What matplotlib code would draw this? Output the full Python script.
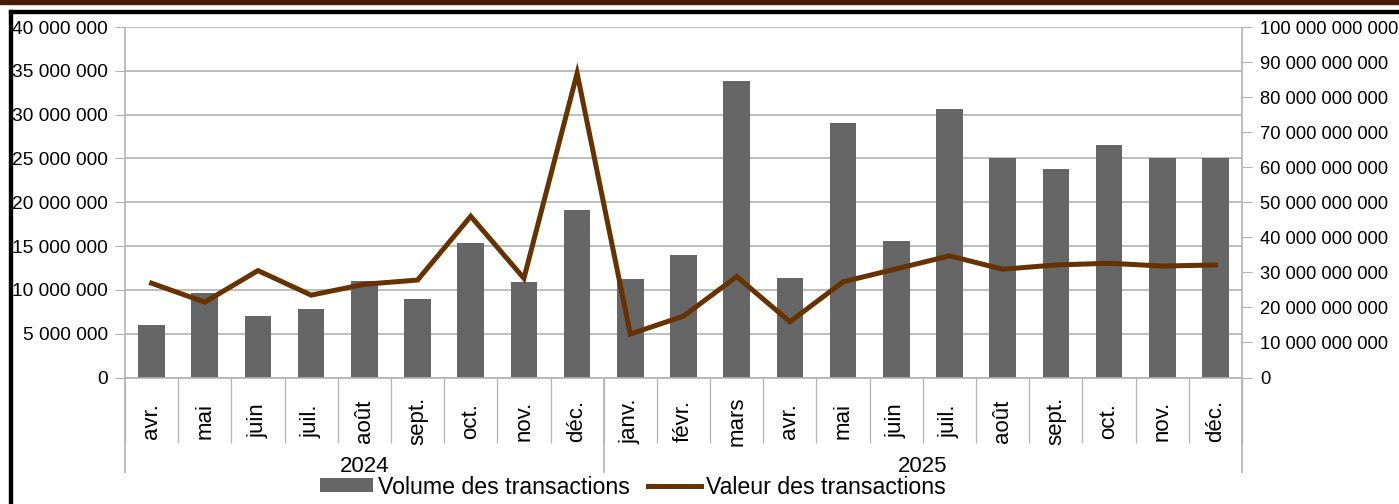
import matplotlib
matplotlib.use("Agg")
import matplotlib.pyplot as plt
from matplotlib.ticker import FuncFormatter, MultipleLocator
from matplotlib.patches import Rectangle

plt.rcParams['font.family'] = ['Liberation Sans', 'DejaVu Sans']

# monthly data, april 2024 -> december 2025
months = ['avr.', 'mai', 'juin', 'juil.', 'août', 'sept.', 'oct.', 'nov.', 'déc.',
          'janv.', 'févr.', 'mars', 'avr.', 'mai', 'juin', 'juil.', 'août', 'sept.',
          'oct.', 'nov.', 'déc.']
years = ['2024', '2025']
year_counts = [9, 12]

# volume des transactions (millions)
volume_m = [6.0, 9.7, 7.0, 7.8, 11.0, 9.0, 15.3, 10.9, 19.1,
            11.2, 14.0, 33.8, 11.3, 29.0, 15.6, 30.6, 25.0, 23.8, 26.5, 25.1, 25.1]
# valeur des transactions (milliards)
valeur_b = [26.9, 21.5, 30.5, 23.5, 26.6, 27.8, 46.0, 28.3, 86.8,
            12.4, 17.5, 28.8, 15.9, 27.3, 31.0, 34.7, 30.9, 32.1, 32.6, 31.8, 32.1]

volume = [v * 1e6 for v in volume_m]
valeur = [v * 1e9 for v in valeur_b]

W, H = 1399, 504
fig = plt.figure(figsize=(W / 100, H / 100), dpi=100)

# frame bits of the original screenshot
fig.patches.append(Rectangle((0, 1 - 4 / H), 1, 4 / H, transform=fig.transFigure,
                             color='#4a1a05', zorder=0))
fig.patches.append(Rectangle((9 / W, 1 - 13 / H), 1, 3 / H, transform=fig.transFigure,
                             color='black', zorder=0))
fig.patches.append(Rectangle((9 / W, 0), 3 / W, 1 - 10 / H, transform=fig.transFigure,
                             color='black', zorder=0))

left, right, top, bottom = 125, 1242, 27, 377.5
ax = fig.add_axes([left / W, 1 - bottom / H, (right - left) / W, (bottom - top) / H])
ax2 = ax.twinx()

grey = '#b3b3b3'
fs_cat = 16
fs_leg = 16.7

x = list(range(len(months)))
ax.bar(x, volume, width=0.5, color='#666666', zorder=2, label='Volume des transactions')
ax2.plot(x, valeur, color='#663300', linewidth=3.6, solid_joinstyle='miter',
         label='Valeur des transactions')

ax.set_xlim(-0.5, len(months) - 0.5)
ax.set_ylim(0, 40e6)
ax2.set_ylim(0, 100e9)
ax.yaxis.set_major_locator(MultipleLocator(5e6))
ax2.yaxis.set_major_locator(MultipleLocator(10e9))

fmt = FuncFormatter(lambda v, p: f"{int(round(v)):,}".replace(',', ' '))
ax.yaxis.set_major_formatter(fmt)
ax2.yaxis.set_major_formatter(fmt)

ax.set_axisbelow(True)
ax.yaxis.grid(True, color=grey, linewidth=1.2)

for a in (ax, ax2):
    for s in a.spines.values():
        s.set_visible(False)
    a.tick_params(axis='y', colors=grey, labelcolor='black',
                  length=7.2, width=0.8)
ax.tick_params(axis='y', pad=5, labelsize=13.8)
ax2.tick_params(axis='y', pad=6, labelsize=13.2)
ax.spines['bottom'].set_visible(True)
ax.spines['bottom'].set_color(grey)
ax.spines['bottom'].set_linewidth(1.2)

ax.set_xticks([])
ax2.set_xticks([])

# category separators and labels below the axis
trans = ax.get_xaxis_transform()
h_axes = bottom - top
month_depth = (443 - bottom) / h_axes
group_depth = (473 - bottom) / h_axes
ax.vlines([i - 0.5 for i in range(len(months) + 1)], -month_depth, 0,
          transform=trans, colors=grey, linewidth=0.9, clip_on=False)
bounds = [-0.5]
for c in year_counts:
    bounds.append(bounds[-1] + c)
# outer edges act as the two value axes
ax.vlines([bounds[0], bounds[-1]], -group_depth, 1, transform=trans, colors=grey,
          linewidth=1.2, clip_on=False)
ax.vlines(bounds[1:-1], -group_depth, 0, transform=trans, colors=grey,
          linewidth=1.2, clip_on=False)

for i, m in enumerate(months):
    ax.text(i, -(421 - bottom) / h_axes, m, transform=trans, rotation=90,
            ha='center', va='center', fontsize=fs_cat)
for j, yr in enumerate(years):
    ax.text((bounds[j] + bounds[j + 1]) / 2, -(466 - bottom) / h_axes, yr,
            transform=trans, ha='center', va='center', fontsize=fs_cat)

h1, l1 = ax.get_legend_handles_labels()
h2, l2 = ax2.get_legend_handles_labels()
fig.legend(h1 + h2, l1 + l2, loc='center', bbox_to_anchor=(633 / W, 1 - 487 / H),
           ncol=2, frameon=False, fontsize=fs_leg, handlelength=2.28, handleheight=0.56,
           handletextpad=0.22, columnspacing=0.78, borderpad=0, borderaxespad=0)

fig.savefig('out.png', dpi=100)
